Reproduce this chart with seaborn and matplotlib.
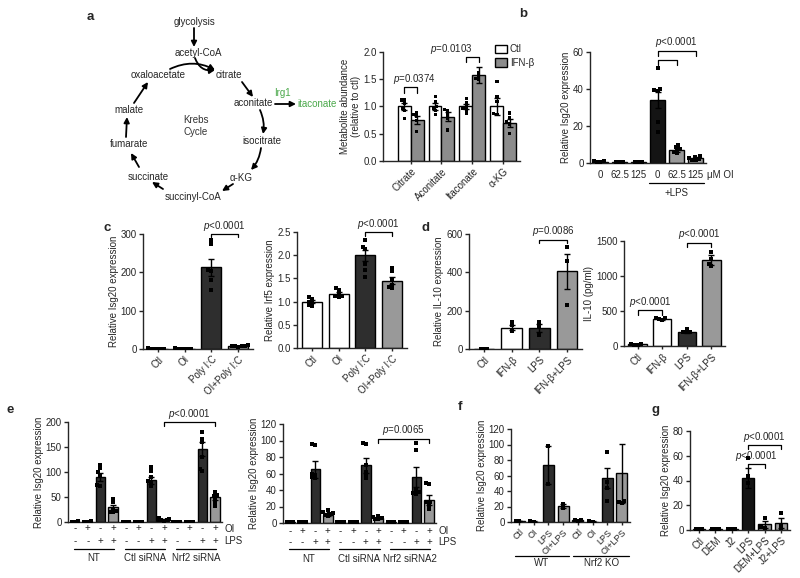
import warnings
import numpy as np
import pandas as pd
import matplotlib
matplotlib.use("Agg")
import matplotlib.pyplot as plt
from matplotlib.patches import Patch
from matplotlib import transforms
import seaborn as sns

warnings.filterwarnings("ignore")

sns.set_style("ticks")
plt.rcParams['font.family'] = ['Liberation Sans', 'DejaVu Sans']
plt.rcParams['font.size'] = 7
plt.rcParams['mathtext.fontset'] = 'custom'
plt.rcParams['mathtext.it'] = 'Liberation Sans:italic'
plt.rcParams['mathtext.rm'] = 'Liberation Sans'
plt.rcParams['axes.linewidth'] = 1.0

W, H = 800, 578
WHITE, GRAY, DARK, BLACK = "#ffffff", "#999999", "#2e2e2e", "#141414"

# ---------------- data ----------------
# a: metabolites
a_mets = ['Citrate', 'Aconitate', 'Itaconate', 'α-KG']
a_groups = ['Ctl', 'IFN-β']
a_ctl_mean = [1.0, 1.0, 1.0, 1.0]
a_ctl_sem = [0.07, 0.07, 0.05, 0.15]
a_ifn_mean = [0.75, 0.81, 1.58, 0.70]
a_ifn_sem = [0.07, 0.08, 0.15, 0.07]
a_ctl_pts = [[1.12, 1.12, 1.06, 0.97, 0.93, 0.78],
             [1.18, 1.09, 1.0, 0.97, 0.92, 0.85],
             [1.15, 1.07, 1.0, 0.96, 0.94, 0.88],
             [1.46, 1.18, 1.09, 0.87, 0.85]]
a_ifn_pts = [[0.88, 0.85, 0.82, 0.75, 0.54],
             [0.94, 0.92, 0.85, 0.79, 0.57],
             [1.62, 1.56, 1.52, 1.49],
             [0.88, 0.80, 0.72, 0.68, 0.51]]

# b: OI dose, +/- LPS
b_labels = ['0', '62.5', '125', '0', '62.5', '125']
b_mean = [0.8, 0.6, 0.5, 34.0, 7.0, 2.6]
b_sem = [0.1, 0.1, 0.1, 4.5, 0.9, 0.4]
b_pts = [[1.0, 0.9, 0.8, 0.7], [0.8, 0.6, 0.4], [0.6, 0.5, 0.4],
         [51.5, 39.8, 39.3, 38.7, 22.0, 17.0],
         [9.5, 8.6, 7.5, 7.0, 6.2, 5.2],
         [3.8, 3.2, 2.7, 2.2, 1.8, 1.5]]

# c: poly I:C
c_labels = ['Ctl', 'OI', 'Poly I:C', 'OI+Poly I:C']
c1_mean = [1.0, 1.0, 213.0, 8.0]
c1_sem = [0.3, 0.3, 22.0, 1.0]
c1_pts = [[1.5, 1.2, 1.0, 0.8, 0.6, 0.5], [1.4, 1.1, 1.0, 0.9, 0.7, 0.6],
          [285, 275, 207, 203, 181, 155], [10, 9, 8.5, 8, 7, 6]]
c2_mean = [1.0, 1.17, 2.0, 1.45]
c2_sem = [0.04, 0.04, 0.12, 0.07]
c2_pts = [[1.10, 1.05, 1.0, 0.97, 0.93, 0.90],
          [1.30, 1.25, 1.17, 1.13, 1.12, 1.10],
          [2.32, 2.18, 2.14, 1.82, 1.68, 1.52],
          [1.73, 1.66, 1.46, 1.36, 1.32, 1.29]]

# d: IL-10
d_labels = ['Ctl', 'IFN-β', 'LPS', 'IFN-β+LPS']
d1_mean = [1.0, 112.0, 110.0, 405.0]
d1_sem = [0.5, 12.0, 20.0, 90.0]
d1_pts = [[2, 1, 0.5], [143, 126, 94], [143, 120, 73], [530, 457, 230]]
d2_mean = [25.0, 380.0, 204.0, 1225.0]
d2_sem = [5.0, 8.0, 12.0, 70.0]
d2_pts = [[30, 25, 20, 18], [403, 394, 384, 378], [250, 205, 198, 195],
          [1345, 1250, 1165, 1140]]

# e: siRNA
e_oi = ['-', '+', '-', '+'] * 3
e_lps = ['-', '-', '+', '+'] * 3
e1_groups = ['NT', 'Ctl siRNA', 'Nrf2 siRNA']
e2_groups = ['NT', 'Ctl siRNA', 'Nrf2 siRNA2']
e1_mean = [1, 1, 90, 30, 1, 1, 84, 5, 1, 1, 147, 50]
e1_sem = [0.2, 0.2, 8, 5, 0.2, 0.2, 7, 1, 0.2, 0.2, 14, 5]
e1_pts = [[1.2, 1, 0.8], [1.1, 1, 0.9], [115, 108, 100, 95, 75, 72],
          [47, 40, 27, 23, 21, 20], [1, 1, 1], [1, 1, 1],
          [110, 103, 90, 83, 80, 73], [8, 6, 5, 4, 4, 3], [1, 1, 1], [1, 1, 1],
          [180, 167, 160, 130, 107, 103], [60, 55, 53, 47, 40, 33]]
e2_mean = [1, 1, 65, 10, 1, 1, 70, 6, 1, 1, 56, 28]
e2_sem = [0.2, 0.2, 10, 2, 0.2, 0.2, 9, 1, 0.2, 0.2, 12, 6]
e2_pts = [[1.2, 1, 0.8], [1.1, 1, 0.9], [95.5, 94, 60, 58, 56, 54],
          [15.4, 13, 12.6, 11.4, 10, 8], [1, 1, 1], [1, 1, 1],
          [97, 95.5, 70, 62, 58, 54], [9, 7, 6, 5, 5], [1, 1, 1], [1, 1, 1],
          [97, 89, 40, 38, 36, 35], [48, 47, 26, 25, 22, 17.5]]

# f: Nrf2 KO
f_labels = ['Ctl', 'OI', 'LPS', 'OI+LPS'] * 2
f_groups = ['WT', 'Nrf2 KO']
f_mean = [1, 0.5, 73, 20.5, 2, 0.5, 57, 63]
f_sem = [0.3, 0.2, 24.5, 2.5, 1, 0.2, 13, 38]
f_pts = [[1.5, 0.8], [0.8, 0.5], [97.6, 49], [23, 18], [3, 1, 2.5], [1, 0.6],
         [90, 52, 44, 27.5], [27.5, 26, 24.5]]

# g: DEM / J2
g_labels = ['Ctl', 'DEM', 'J2', 'LPS', 'DEM+LPS', 'J2+LPS']
g_mean = [1.0, 0.6, 0.8, 42.0, 4.5, 6.0]
g_sem = [0.2, 0.2, 0.2, 8.0, 3.0, 4.0]
g_pts = [[1.2, 1, 0.8], [0.8, 0.5, 0.5], [1, 0.8, 0.8], [57.8, 44, 37.7],
         [9.6, 2.4, 1.5], [13.6, 4.3, 1.6]]


# ---------------- helpers ----------------
def rect(x0, y0, x1, y1):
    return [x0 / W, 1 - y1 / H, (x1 - x0) / W, (y1 - y0) / H]


def style(ax, ymax, ystep, ylabel, xticklen=2.5, xpad=1.5):
    ticks = np.arange(0, ymax + ystep / 2, ystep)
    ax.set_ylim(0, ymax)
    ax.set_yticks(ticks)
    ax.set_yticklabels([f"{v:g}" for v in ticks])
    sns.despine(ax=ax)
    ax.set_ylabel(ylabel, fontsize=7, labelpad=1.5)
    ax.set_xlabel("")
    ax.tick_params(axis='y', length=3, width=1, labelsize=7, pad=1.5)
    ax.tick_params(axis='x', length=xticklen, width=1, labelsize=7, pad=xpad)


def bars(ax, means, sems, pts, colors, width=0.75):
    xs = list(range(len(means)))
    keys = [str(i) for i in xs]
    sns.barplot(x=xs, y=means, hue=keys, palette=dict(zip(keys, colors)),
                width=width, edgecolor='black', linewidth=1, legend=False,
                errorbar=None, ax=ax)
    ax.errorbar(xs, means, yerr=sems, fmt='none', ecolor='black',
                elinewidth=1, capsize=2.5, capthick=1, zorder=4)
    px, py = [], []
    for i, p in enumerate(pts):
        px += [i] * len(p)
        py += list(p)
    sns.swarmplot(x=px, y=py, order=xs, color='black', marker='s', size=2.3,
                  linewidth=0, ax=ax, zorder=5)
    ax.set_xlim(-0.55, len(means) - 0.45)


def rot_labels(ax, labels, size=7):
    ax.set_xticks(range(len(labels)))
    ax.set_xticklabels(labels, rotation=45, ha='right', rotation_mode='anchor',
                       fontsize=size)


def bracket(ax, x1, x2, y, h, text, dx=0):
    ax.plot([x1, x1, x2, x2], [y - h, y, y, y - h], color='black', lw=0.9,
            clip_on=False)
    ax.annotate(text, xy=((x1 + x2) / 2, y), xytext=(dx, 1), textcoords='offset points',
                ha='center', va='bottom', fontsize=7, annotation_clip=False)


def group_lines(ax, spans, names, yline, ytext):
    tr = transforms.blended_transform_factory(ax.transData, ax.transAxes)
    for (s, e), name in zip(spans, names):
        ax.plot([s, e], [yline, yline], color='black', lw=0.9, transform=tr,
                clip_on=False)
        ax.text((s + e) / 2, ytext, name, transform=tr, ha='center', va='center',
                fontsize=7)


fig = plt.figure(figsize=(W / 100, H / 100), dpi=100)

# ---------------- Krebs cycle diagram ----------------
ax0 = fig.add_axes([0, 0, 1, 1], zorder=-5)
ax0.set_xlim(0, W)
ax0.set_ylim(H, 0)
ax0.axis('off')

nodes = {'glycolysis': (194, 22), 'acetyl-CoA': (198, 53), 'citrate': (229, 75),
         'oxaloacetate': (158, 75), 'aconitate': (253, 103), 'isocitrate': (262, 141),
         'α-KG': (241, 178), 'succinyl-CoA': (193, 197), 'succinate': (148, 177),
         'fumarate': (129, 144), 'malate': (129, 110)}
for name, (x, y) in nodes.items():
    ax0.text(x, y, name, ha='center', va='center', fontsize=7)
ax0.text(196, 126, 'Krebs\nCycle', ha='center', va='center', fontsize=7,
         color='#333333', linespacing=1.3)
ax0.text(282, 93, 'Irg1', ha='center', va='center', fontsize=7, color='#4aa84a')
ax0.text(297, 104, 'itaconate', ha='left', va='center', fontsize=7, color='#4aa84a')

arrows = [((194, 28), (194, 47), 0), ((195, 58), (215, 70), 0.4),
          ((170, 69), (215, 70), -0.25), ((242, 82), (253, 97), 0),
          ((260, 110), (263, 134), -0.15), ((261, 148), (251, 170), -0.15),
          ((233, 184), (222, 191), 0), ((163, 189), (152, 182), 0),
          ((139, 167), (131, 153), 0), ((126, 137), (127, 117), 0),
          ((134, 103), (148, 82), 0), ((275, 104), (296, 104), 0)]
for (s, e, r) in arrows:
    ax0.annotate('', xy=e, xytext=s,
                 arrowprops=dict(arrowstyle='-|>', color='black', lw=1.3,
                                 mutation_scale=8, shrinkA=0, shrinkB=0,
                                 connectionstyle=f'arc3,rad={r}'))

# panel letters
for lab, (x, y) in {'a': (90, 17), 'b': (523, 14), 'c': (107, 228), 'd': (425, 228),
                    'e': (10, 410), 'f': (460, 407), 'g': (655, 410)}.items():
    ax0.text(x, y, lab, ha='center', va='center', fontsize=9.5, fontweight='bold')

# ---------------- a: metabolites ----------------
axa = fig.add_axes(rect(383, 52, 520, 161))
dfa = pd.DataFrame({'met': a_mets * 2, 'grp': ['Ctl'] * 4 + ['IFN-β'] * 4,
                    'val': a_ctl_mean + a_ifn_mean})
sns.barplot(data=dfa, x='met', y='val', hue='grp', palette={'Ctl': WHITE, 'IFN-β': '#8c8c8c'},
            width=0.84, edgecolor='black', linewidth=1, errorbar=None, legend=False, ax=axa)
for off, m, s in [(-0.21, a_ctl_mean, a_ctl_sem), (0.21, a_ifn_mean, a_ifn_sem)]:
    axa.errorbar(np.arange(4) + off, m, yerr=s, fmt='none', ecolor='black',
                 elinewidth=1, capsize=2.5, capthick=1, zorder=4)
rows = []
for i, met in enumerate(a_mets):
    rows += [(met, 'Ctl', v) for v in a_ctl_pts[i]]
    rows += [(met, 'IFN-β', v) for v in a_ifn_pts[i]]
dfa_pts = pd.DataFrame(rows, columns=['met', 'grp', 'val'])
sns.swarmplot(data=dfa_pts, x='met', y='val', hue='grp', dodge=True, order=a_mets,
              palette={'Ctl': 'black', 'IFN-β': 'black'}, marker='s', size=2.3,
              linewidth=0, legend=False, ax=axa, zorder=5)
axa.set_xlim(-0.9, 3.55)
style(axa, 2.0, 0.5, 'Metabolite abundance\n(relative to ctl)')
axa.set_yticklabels(['0.0', '0.5', '1.0', '1.5', '2.0'])
rot_labels(axa, a_mets)
bracket(axa, -0.21, 0.21, 1.35, 0.1, '$p$=0.0374', dx=3)
bracket(axa, 1.79, 2.21, 1.91, 0.1, '$p$=0.0103', dx=-15)
axa.legend([Patch(facecolor=WHITE, edgecolor='black', lw=1),
            Patch(facecolor='#8c8c8c', edgecolor='black', lw=1)], a_groups,
           loc='upper left', bbox_to_anchor=(0.82, 1.07), frameon=False, fontsize=7,
           handlelength=1.2, handleheight=1.0, handletextpad=0.3, labelspacing=0.35,
           borderaxespad=0, borderpad=0)

# ---------------- b ----------------
axb = fig.add_axes(rect(590, 52, 706, 163))
bars(axb, b_mean, b_sem, b_pts, [WHITE, WHITE, WHITE, BLACK, GRAY, GRAY])
style(axb, 60, 20, 'Relative Isg20 expression', xticklen=0, xpad=5)
axb.set_xticks(range(6))
axb.set_xticklabels(b_labels)
bracket(axb, 3, 5, 60.7, 2.7, '$p$<0.0001')
axb.plot([3, 3, 4, 4], [53, 55.9, 55.9, 53], color='black', lw=0.9)
trb = transforms.blended_transform_factory(axb.transData, axb.transAxes)
axb.text(5.62, -0.11, 'μM OI', transform=trb, ha='left', va='center', fontsize=7)
group_lines(axb, [(2.55, 5.45)], ['+LPS'], -0.18, -0.27)

# ---------------- c ----------------
axc1 = fig.add_axes(rect(143, 234, 253, 349))
bars(axc1, c1_mean, c1_sem, c1_pts, [WHITE, WHITE, DARK, GRAY])
style(axc1, 300, 100, 'Relative Isg20 expression')
rot_labels(axc1, c_labels)
bracket(axc1, 2, 3, 300, 9, '$p$<0.0001')

axc2 = fig.add_axes(rect(297, 232, 407, 348))
bars(axc2, c2_mean, c2_sem, c2_pts, [WHITE, WHITE, DARK, GRAY])
style(axc2, 2.5, 0.5, 'Relative Irf5 expression')
axc2.set_yticklabels(['0.0', '0.5', '1.0', '1.5', '2.0', '2.5'])
rot_labels(axc2, c_labels)
bracket(axc2, 2, 3, 2.49, 0.07, '$p$<0.0001')

# ---------------- d ----------------
axd1 = fig.add_axes(rect(469, 234, 582, 349))
bars(axd1, d1_mean, d1_sem, d1_pts, [WHITE, WHITE, DARK, GRAY])
style(axd1, 600, 200, 'Relative IL-10 expression')
rot_labels(axd1, d_labels)
bracket(axd1, 2, 3, 571, 18, '$p$=0.0086')

axd2 = fig.add_axes(rect(624, 241, 725, 346))
bars(axd2, d2_mean, d2_sem, d2_pts, [WHITE, WHITE, DARK, GRAY])
style(axd2, 1500, 500, 'IL-10 (pg/ml)')
rot_labels(axd2, d_labels)
bracket(axd2, 0, 1, 513, 63, '$p$<0.0001')
bracket(axd2, 2, 3, 1476, 62, '$p$<0.0001')


# ---------------- e ----------------
def signs(ax, row_y, names=('OI', 'LPS')):
    tr = transforms.blended_transform_factory(ax.transData, ax.transAxes)
    for i in range(12):
        ax.text(i, row_y[0], e_oi[i], transform=tr, ha='center', va='center', fontsize=7)
        ax.text(i, row_y[1], e_lps[i], transform=tr, ha='center', va='center', fontsize=7)
    ax.text(11.75, row_y[0], names[0], transform=tr, ha='left', va='center', fontsize=7)
    ax.text(11.75, row_y[1], names[1], transform=tr, ha='left', va='center', fontsize=7)


e_cols = [WHITE, WHITE, DARK, GRAY] * 3
axe1 = fig.add_axes(rect(68, 422, 222, 522))
bars(axe1, e1_mean, e1_sem, e1_pts, e_cols)
style(axe1, 200, 50, 'Relative Isg20 expression', xticklen=0)
axe1.set_xticks([])
signs(axe1, (-0.065, -0.19))
group_lines(axe1, [(-0.1, 3.1), (3.9, 7.1), (7.9, 11.1)], e1_groups, -0.27, -0.36)
bracket(axe1, 7, 11, 200, 8, '$p$<0.0001')

axe2 = fig.add_axes(rect(283, 424, 436, 523))
bars(axe2, e2_mean, e2_sem, e2_pts, e_cols)
style(axe2, 120, 20, 'Relative Isg20 expression', xticklen=0)
axe2.set_xticks([])
signs(axe2, (-0.08, -0.19))
group_lines(axe2, [(-0.1, 3.1), (3.9, 7.1), (7.9, 11.1)], e2_groups, -0.265, -0.36)
bracket(axe2, 7, 11, 102, 5, '$p$=0.0065')

# ---------------- f ----------------
axf = fig.add_axes(rect(511, 429, 630, 522))
bars(axf, f_mean, f_sem, f_pts, [WHITE, WHITE, DARK, GRAY] * 2)
style(axf, 120, 20, 'Relative Isg20 expression')
rot_labels(axf, f_labels, size=6.5)
group_lines(axf, [(-0.3, 3.4), (3.7, 7.5)], f_groups, -0.37, -0.44)

# ---------------- g ----------------
axg = fig.add_axes(rect(690, 431, 790, 530))
bars(axg, g_mean, g_sem, g_pts, [WHITE, WHITE, WHITE, BLACK, GRAY, GRAY])
style(axg, 80, 20, 'Relative Isg20 expression')
rot_labels(axg, g_labels)
bracket(axg, 3, 4, 53, 2.6, '$p$<0.0001')
bracket(axg, 3, 5, 68.5, 2.7, '$p$<0.0001')

fig.savefig('out.png', dpi=100)
